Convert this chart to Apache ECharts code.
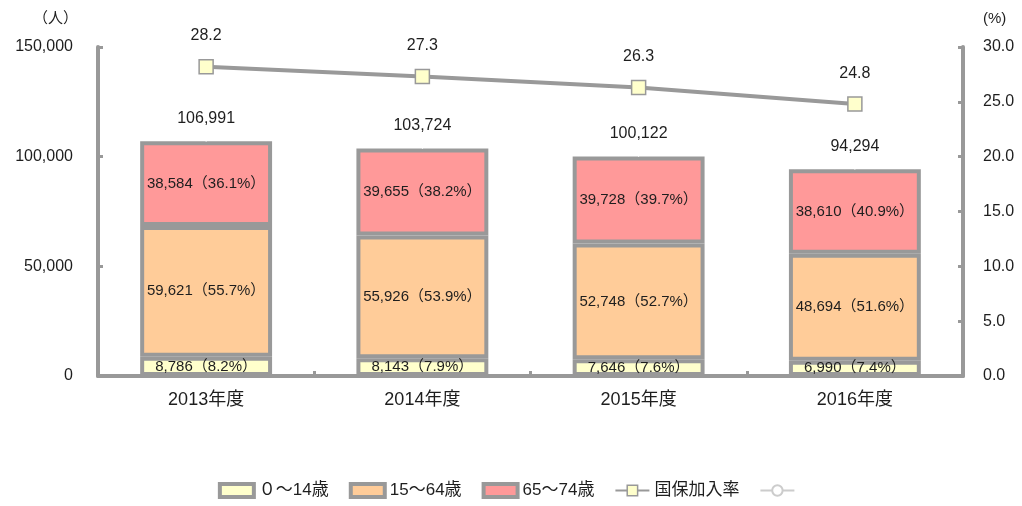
<!DOCTYPE html>
<html>
<head>
<meta charset="utf-8">
<script src="https://cdn.jsdelivr.net/npm/echarts@6/dist/echarts.min.js"></script>
<style>
  html, body { margin: 0; padding: 0; background: #fff; }
  #chart { width: 1022px; height: 506px; }
</style>
</head>
<body>
<div id="chart"></div>
<script>
const years = ['2013年度', '2014年度', '2015年度', '2016年度'];
const age0to14 = [8786, 8143, 7646, 6990];
const age15to64 = [59621, 55926, 52748, 48694];
const age65to74 = [38584, 39655, 39728, 38610];
const totals = [106991, 103724, 100122, 94294];
const rate = [28.2, 27.3, 26.3, 24.8];

const font = "'Liberation Sans', 'Noto Sans CJK JP', sans-serif";
const grey = '#999';
const txt = '#1e1e1e';

const fmtNum = v => v.toLocaleString('en-US');
const pctLabel = p => fmtNum(p.value) + '（' + (p.value / totals[p.dataIndex] * 100).toFixed(1) + '%）';

const chart = echarts.init(document.getElementById('chart'));

function barSeries(name, data, color) {
    return {
        name: name,
        type: 'bar',
        stack: 'pop',
        data: data,
        barWidth: '61%',
        itemStyle: { color: color, borderColor: grey, borderWidth: 4 },
        label: {
            show: true,
            position: 'inside',
            formatter: pctLabel,
            color: txt,
            fontSize: 15,
            fontFamily: font
        }
    };
}

const barLegend = (name, color) => ({
    name: name,
    icon: 'rect',
    itemStyle: { color: color, borderColor: grey, borderWidth: 4 }
});

chart.setOption({
    animation: false,
    textStyle: { fontFamily: font },
    grid: { left: 98, right: 59, top: 47, bottom: 130 },
    legend: {
        bottom: 2,
        left: 'center',
        itemWidth: 34,
        itemHeight: 13,
        itemGap: 20,
        itemStyle: { borderColor: grey, borderWidth: 4 },
        textStyle: { color: txt, fontSize: 17, fontFamily: font },
        data: [
            barLegend('０～14歳', '#ffffcc'),
            barLegend('15～64歳', '#ffcc99'),
            barLegend('65～74歳', '#ff9999'),
            { name: '国保加入率', itemStyle: { color: '#ffffcc', borderColor: grey, borderWidth: 1.5 } },
            { name: ' ', itemStyle: { color: '#ccc', borderColor: '#ccc', borderWidth: 1.5 } }
        ]
    },
    xAxis: {
        type: 'category',
        data: years,
        axisLine: { lineStyle: { color: grey, width: 4 } },
        axisTick: { show: true, inside: true, length: 5, lineStyle: { color: grey, width: 3 } },
        axisLabel: { color: txt, fontSize: 18, margin: 15, fontFamily: font }
    },
    yAxis: [
        {
            type: 'value',
            min: 0, max: 150000, interval: 50000,
            name: '（人）',
            nameGap: 21,
            nameTextStyle: { color: txt, fontSize: 15, align: 'right', padding: [0, 20, 0, 0] },
            axisLine: { show: true, lineStyle: { color: grey, width: 4 } },
            axisTick: { show: true, inside: true, length: 5, lineStyle: { color: grey, width: 3 } },
            splitLine: { show: false },
            axisLabel: { color: txt, fontSize: 16, margin: 25, formatter: v => fmtNum(v) }
        },
        {
            type: 'value',
            min: 0, max: 30, interval: 5,
            name: '(%)',
            nameGap: 21,
            nameTextStyle: { color: txt, fontSize: 15, align: 'left', padding: [0, 0, 0, 20] },
            axisLine: { show: true, lineStyle: { color: grey, width: 4 } },
            axisTick: { show: true, inside: true, length: 5, lineStyle: { color: grey, width: 3 } },
            splitLine: { show: false },
            axisLabel: { color: txt, fontSize: 16, margin: 20, formatter: v => v.toFixed(1) }
        }
    ],
    series: [
        barSeries('０～14歳', age0to14, '#ffffcc'),
        barSeries('15～64歳', age15to64, '#ffcc99'),
        barSeries('65～74歳', age65to74, '#ff9999'),
        {
            name: '国保加入率',
            type: 'line',
            yAxisIndex: 1,
            data: rate,
            symbol: 'rect',
            symbolSize: 14,
            lineStyle: { color: grey, width: 4 },
            itemStyle: { color: '#ffffcc', borderColor: grey, borderWidth: 1.5 },
            label: {
                show: true,
                position: 'top',
                distance: 15,
                color: txt,
                fontSize: 16,
                formatter: p => p.value.toFixed(1)
            },
            z: 5
        },
        {
            // empty legend entry seen in the original
            name: ' ',
            type: 'line',
            data: [null, null, null, null],
            symbol: 'emptyCircle',
            symbolSize: 9,
            lineStyle: { color: '#ccc', width: 1.5 },
            itemStyle: { color: '#ccc', borderWidth: 1.5 }
        },
        {
            // totals above each bar
            type: 'scatter',
            data: totals,
            symbolSize: 1,
            itemStyle: { color: '#fff', opacity: 1 },
            label: {
                show: true,
                position: 'top',
                distance: 14,
                color: txt,
                fontSize: 16,
                formatter: p => fmtNum(p.value)
            },
            z: 4
        }
    ]
});
</script>
</body>
</html>
